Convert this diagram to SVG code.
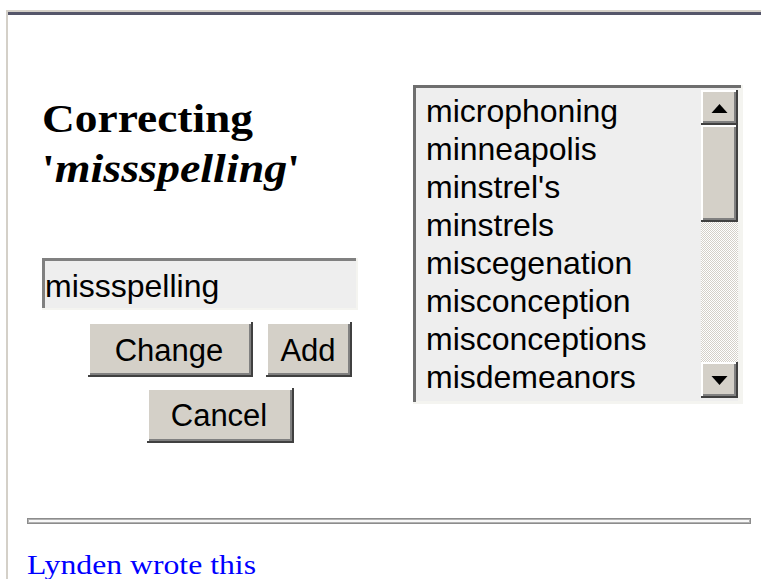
<svg xmlns="http://www.w3.org/2000/svg" width="761" height="579" viewBox="0 0 761 579">
<defs>
<pattern id="dither" width="2" height="2" patternUnits="userSpaceOnUse">
<rect width="2" height="2" fill="#ffffff"/>
<rect width="1" height="1" fill="#d4d0c8"/>
<rect x="1" y="1" width="1" height="1" fill="#d4d0c8"/>
</pattern>
</defs>
<style>
.ui{font-family:"Liberation Sans",Arial,sans-serif;fill:#000}
.face{fill:#d4d0c8}
.hl{fill:#ffffff}
.sh{fill:#808080}
.dk{fill:#404040}
.field{fill:#eeeeee}
</style>
<rect width="761" height="579" fill="#ffffff"/>
<!-- window frame -->
<g id="frame">
<rect x="6" y="10" width="755" height="2" fill="#d4d0c8"/>
<rect x="6" y="12" width="755" height="3" fill="#55566a"/>
<rect x="6" y="10" width="2" height="569" fill="#d4d0c8"/>
</g>
<!-- heading -->
<g id="heading">
<text x="42" y="132" font-family="Liberation Serif,'Times New Roman',serif" font-weight="bold" font-size="40" textLength="211" lengthAdjust="spacingAndGlyphs">Correcting</text>
<text x="42" y="182" font-family="Liberation Serif,'Times New Roman',serif" font-weight="bold" font-size="40" textLength="258" lengthAdjust="spacingAndGlyphs">'<tspan font-style="italic">missspelling</tspan>'</text>
</g>
<!-- text input -->
<g id="input">
<rect x="42" y="258" width="316" height="52" fill="#f4f4f0"/>
<rect x="42" y="258" width="314" height="3" class="sh"/>
<rect x="42" y="258" width="3" height="50" class="sh"/>
<rect x="45" y="261" width="311" height="47" class="field"/>
<text x="45" y="297" class="ui" font-size="32">missspelling</text>
</g>
<!-- Change button -->
<g id="btn-change">
<rect x="88" y="322" width="165" height="55" class="dk"/>
<rect x="88" y="322" width="163" height="53" class="hl"/>
<rect x="90" y="324" width="161" height="51" class="sh"/>
<rect x="90" y="324" width="159" height="49" class="face"/>
<text x="169" y="361" class="ui" font-size="31" text-anchor="middle">Change</text>
</g>
<!-- Add button -->
<g id="btn-add">
<rect x="266" y="322" width="86" height="55" class="dk"/>
<rect x="266" y="322" width="84" height="53" class="hl"/>
<rect x="268" y="324" width="82" height="51" class="sh"/>
<rect x="268" y="324" width="80" height="49" class="face"/>
<text x="308" y="361" class="ui" font-size="31" text-anchor="middle">Add</text>
</g>
<!-- Cancel button -->
<g id="btn-cancel">
<rect x="147" y="388" width="147" height="55" class="dk"/>
<rect x="147" y="388" width="145" height="53" class="hl"/>
<rect x="149" y="390" width="143" height="51" class="sh"/>
<rect x="149" y="390" width="141" height="49" class="face"/>
<text x="219" y="426" class="ui" font-size="31" text-anchor="middle">Cancel</text>
</g>
<!-- list box -->
<g id="listbox">
<rect x="413" y="85" width="330" height="319" fill="#f4f4f0"/>
<rect x="413" y="85" width="328" height="3" fill="#6e6e6e"/>
<rect x="413" y="85" width="3" height="317" fill="#6e6e6e"/>
<rect x="416" y="88" width="322" height="313" class="field"/>
<g class="ui" font-size="32">
<text x="426" y="122">microphoning</text>
<text x="426" y="160">minneapolis</text>
<text x="426" y="198">minstrel's</text>
<text x="426" y="236">minstrels</text>
<text x="426" y="274">miscegenation</text>
<text x="426" y="312">misconception</text>
<text x="426" y="350">misconceptions</text>
<text x="426" y="388">misdemeanors</text>
</g>
</g>
<!-- scrollbar -->
<g id="scrollbar">
<rect x="701" y="222" width="37" height="140" fill="url(#dither)"/>
<g id="scroll-up">
<rect x="701" y="90" width="37" height="35" class="dk"/>
<rect x="701" y="90" width="35" height="33" class="hl"/>
<rect x="703" y="92" width="33" height="31" class="sh"/>
<rect x="703" y="92" width="31" height="29" class="face"/>
<polygon points="711.5,113 727.5,113 719.5,104" fill="#000"/>
</g>
<g id="scroll-thumb">
<rect x="701" y="125" width="37" height="97" class="dk"/>
<rect x="701" y="125" width="35" height="95" class="hl"/>
<rect x="703" y="127" width="33" height="93" class="sh"/>
<rect x="703" y="127" width="31" height="91" class="face"/>
</g>
<g id="scroll-down">
<rect x="701" y="362" width="37" height="36" class="dk"/>
<rect x="701" y="362" width="35" height="34" class="hl"/>
<rect x="703" y="364" width="33" height="32" class="sh"/>
<rect x="703" y="364" width="31" height="30" class="face"/>
<polygon points="711.5,376 727.5,376 719.5,385" fill="#000"/>
</g>
</g>
<!-- separator -->
<g id="separator">
<rect x="27" y="518" width="724" height="6" fill="#8c8c8c"/>
<rect x="28" y="519" width="722" height="4" fill="#b0b0b0"/>
<rect x="29" y="520" width="720" height="2" fill="#f8f8f8"/>
</g>
<!-- link -->
<g id="footer">
<text x="27" y="574" font-family="Liberation Serif,'Times New Roman',serif" font-size="28" fill="#0000ff" textLength="229" lengthAdjust="spacingAndGlyphs">Lynden wrote this</text>
</g>
</svg>
